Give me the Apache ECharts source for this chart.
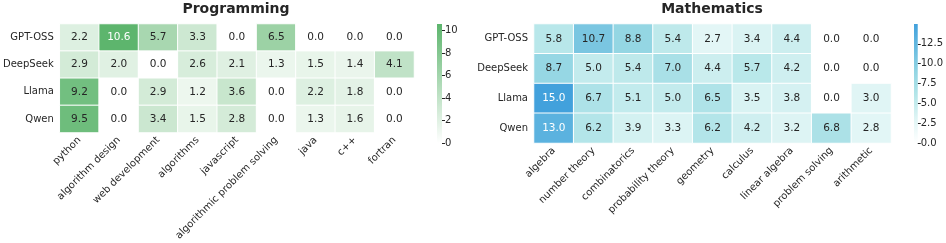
<!DOCTYPE html>
<html>
<head>
<meta charset="utf-8">
<script src="https://cdn.jsdelivr.net/npm/echarts@6/dist/echarts.min.js"></script>
<style>
html,body{margin:0;padding:0;background:#fff;}
#c{width:946px;height:243px;}
</style>
</head>
<body>
<div id="c"></div>
<script>
const models = ['GPT-OSS', 'DeepSeek', 'Llama', 'Qwen'];
const progCategories = ['python', 'algorithm design', 'web development', 'algorithms', 'javascript', 'algorithmic problem solving', 'java', 'c++', 'fortran'];
const mathCategories = ['algebra', 'number theory', 'combinatorics', 'probability theory', 'geometry', 'calculus', 'linear algebra', 'problem solving', 'arithmetic'];
const progGPT = [2.2, 10.6, 5.7, 3.3, 0.0, 6.5, 0.0, 0.0, 0.0];
const progDeepSeek = [2.9, 2.0, 0.0, 2.6, 2.1, 1.3, 1.5, 1.4, 4.1];
const progLlama = [9.2, 0.0, 2.9, 1.2, 3.6, 0.0, 2.2, 1.8, 0.0];
const progQwen = [9.5, 0.0, 3.4, 1.5, 2.8, 0.0, 1.3, 1.6, 0.0];
const mathGPT = [5.8, 10.7, 8.8, 5.4, 2.7, 3.4, 4.4, 0.0, 0.0];
const mathDeepSeek = [8.7, 5.0, 5.4, 7.0, 4.4, 5.7, 4.2, 0.0, 0.0];
const mathLlama = [15.0, 6.7, 5.1, 5.0, 6.5, 3.5, 3.8, 0.0, 3.0];
const mathQwen = [13.0, 6.2, 3.9, 3.3, 6.2, 4.2, 3.2, 6.8, 2.8];
const progTicks = [0, 2, 4, 6, 8, 10];
const mathTicks = [0, 2.5, 5, 7.5, 10, 12.5];
const progMax = 10.6;
const mathMax = 15.0;

const FONT = 'DejaVu Sans';
const TXT = '#262626';
const greenColors = ['#ffffff', '#5db56d'];
const blueColors = ['#ffffff', '#e0f5f5', '#b5e6e9', '#92d5e3', '#68bbe0', '#42a1dc'];

function buildData(rows, whiteAbove) {
  const out = [];
  rows.forEach((row, y) => {
    row.forEach((v, x) => {
      out.push({ value: [x, y, v], label: { color: v > whiteAbove ? '#ffffff' : TXT } });
    });
  });
  return out;
}
const progData = buildData([progGPT, progDeepSeek, progLlama, progQwen], 10);
const mathData = buildData([mathGPT, mathDeepSeek, mathLlama, mathQwen], 12);

function gradientStops(colors) {
  const n = colors.length;
  return colors.slice().reverse().map((c, i) => ({ offset: i / (n - 1), color: c }));
}

const chart = echarts.init(document.getElementById('c'), null, { renderer: 'canvas' });

const gridTop = 24, gridH = 119;
const catAxisLabel = { rotate: 45, fontFamily: FONT, fontSize: 10, color: TXT, margin: 6, interval: 0 };

chart.setOption({
  animation: false,
  textStyle: { fontFamily: FONT },
  title: [
    { text: 'Programming', left: 236, top: 2, padding: 0, textAlign: 'center', textStyle: { fontFamily: FONT, fontSize: 14, fontWeight: 'bold', color: TXT } },
    { text: 'Mathematics', left: 712, top: 2, padding: 0, textAlign: 'center', textStyle: { fontFamily: FONT, fontSize: 14, fontWeight: 'bold', color: TXT } }
  ],
  grid: [
    { left: 57, top: gridTop, width: 357, height: gridH },
    { left: 534, top: gridTop, width: 357, height: gridH },
    { left: 437, top: gridTop, width: 5, height: gridH },
    { left: 914, top: gridTop, width: 5, height: gridH }
  ],
  xAxis: [
    { type: 'category', gridIndex: 0, data: progCategories, axisLine: { show: false }, axisTick: { show: false }, axisLabel: catAxisLabel, splitArea: { show: false } },
    { type: 'category', gridIndex: 1, data: mathCategories, axisLine: { show: false }, axisTick: { show: false }, axisLabel: catAxisLabel },
    { type: 'category', gridIndex: 2, data: ['c'], show: false },
    { type: 'category', gridIndex: 3, data: ['c'], show: false }
  ],
  yAxis: [
    { type: 'category', gridIndex: 0, data: models, inverse: true, axisLine: { show: false }, axisTick: { show: false }, axisLabel: { fontFamily: FONT, fontSize: 10, color: TXT, margin: 6 } },
    { type: 'category', gridIndex: 1, data: models, inverse: true, axisLine: { show: false }, axisTick: { show: false }, axisLabel: { fontFamily: FONT, fontSize: 10, color: TXT, margin: 6 } },
    { type: 'value', gridIndex: 2, min: 0, max: progMax, position: 'right', splitLine: { show: false }, axisLine: { show: false },
      axisTick: { show: true, length: 3, lineStyle: { color: TXT }, customValues: progTicks },
      axisLabel: { fontFamily: FONT, fontSize: 10, color: TXT, margin: 3, customValues: progTicks, formatter: v => String(v) } },
    { type: 'value', gridIndex: 3, min: 0, max: mathMax, position: 'right', splitLine: { show: false }, axisLine: { show: false },
      axisTick: { show: true, length: 3, lineStyle: { color: TXT }, customValues: mathTicks },
      axisLabel: { fontFamily: FONT, fontSize: 10, color: TXT, margin: 3, customValues: mathTicks, formatter: v => Number(v).toFixed(1) } }
  ],
  visualMap: [
    { show: false, type: 'continuous', seriesIndex: 0, dimension: 2, min: 0, max: progMax, inRange: { color: greenColors } },
    { show: false, type: 'continuous', seriesIndex: 1, dimension: 2, min: 0, max: mathMax, inRange: { color: blueColors } }
  ],
  series: [
    { type: 'heatmap', xAxisIndex: 0, yAxisIndex: 0, data: progData,
      itemStyle: { borderColor: '#ffffff', borderWidth: 1 },
      label: { show: true, fontFamily: FONT, fontSize: 10.5, formatter: p => p.value[2].toFixed(1) },
      emphasis: { disabled: true } },
    { type: 'heatmap', xAxisIndex: 1, yAxisIndex: 1, data: mathData,
      itemStyle: { borderColor: '#ffffff', borderWidth: 1 },
      label: { show: true, fontFamily: FONT, fontSize: 10.5, formatter: p => p.value[2].toFixed(1) },
      emphasis: { disabled: true } },
    { type: 'bar', xAxisIndex: 2, yAxisIndex: 2, data: [progMax], barWidth: '100%', silent: true,
      itemStyle: { color: { type: 'linear', x: 0, y: 0, x2: 0, y2: 1, colorStops: gradientStops(greenColors) } } },
    { type: 'bar', xAxisIndex: 3, yAxisIndex: 3, data: [mathMax], barWidth: '100%', silent: true,
      itemStyle: { color: { type: 'linear', x: 0, y: 0, x2: 0, y2: 1, colorStops: gradientStops(blueColors) } } }
  ]
});
</script>
</body>
</html>
